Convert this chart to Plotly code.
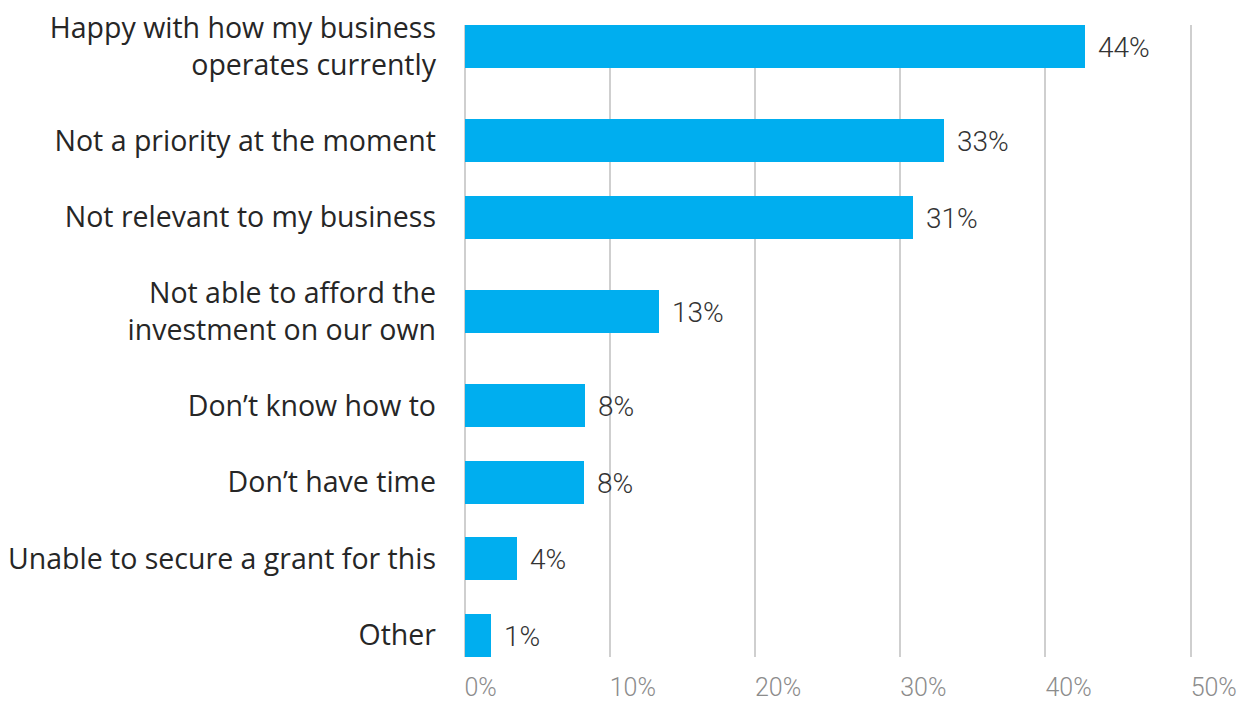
import plotly.graph_objects as go

# ---- data ----
categories = [
    "Happy with how my business<br>operates currently",
    "Not a priority at the moment",
    "Not relevant to my business",
    "Not able to afford the<br>investment on our own",
    "Don’t know how to",
    "Don’t have time",
    "Unable to secure a grant for this",
    "Other",
]
bar_values = [42.7, 33.0, 30.9, 13.4, 8.3, 8.2, 3.6, 1.8]
value_labels = ["44%", "33%", "31%", "13%", "8%", "8%", "4%", "1%"]
tick_values = [0, 10, 20, 30, 40, 50]
tick_labels = ["0%", "10%", "20%", "30%", "40%", "50%"]

# ---- layout helpers: row spacing grows with number of label lines ----
BASE_GAP = 76.6
EXTRA_PER_LINE = 17.5
BAR_H = 43
lines = [c.count("<br>") + 1 for c in categories]
positions = [0.0]
for i in range(1, len(categories)):
    gap = BASE_GAP + EXTRA_PER_LINE * ((lines[i - 1] - 1) + (lines[i] - 1))
    positions.append(positions[-1] + gap)

W, H = 1250, 704
plot_bottom = 657
span = positions[-1] + BAR_H
plot_top = plot_bottom - span
x_left_px, x0_px, x50_px = 462.5, 464, 1191
px_per_unit = (x50_px - x0_px) / 50
x_min = -(x0_px - x_left_px) / px_per_unit
x_max = 50.3
plot_right = x0_px + x_max * px_per_unit

BAR_COLOR = "#00AEEF"
GRID_COLOR = "#CFCFCF"

fig = go.Figure()
fig.add_trace(go.Bar(
    x=bar_values,
    y=positions,
    orientation="h",
    width=BAR_H,
    marker=dict(color=BAR_COLOR, line=dict(width=0)),
    hoverinfo="skip",
))

for v, p, t in zip(bar_values, positions, value_labels):
    fig.add_annotation(
        x=v, y=p, text=t, showarrow=False,
        xanchor="left", yanchor="middle", xshift=11, yshift=-1,
        font=dict(family="Roboto", size=28, color="#333333", weight=300),
    )

fig.update_layout(
    width=W, height=H,
    margin=dict(l=x_left_px, r=W - plot_right, t=plot_top, b=H - plot_bottom, pad=0),
    paper_bgcolor="white", plot_bgcolor="white",
    showlegend=False,
    bargap=0,
)
fig.update_xaxes(
    range=[x_min, x_max],
    tickvals=tick_values, ticktext=tick_labels,
    showgrid=True, gridcolor=GRID_COLOR, gridwidth=2,
    zeroline=False, showline=False, ticks="",
    ticklabelposition="outside right",
    ticklabelstandoff=13,
    tickfont=dict(family="Roboto", size=25, color="#8C8C8C", weight=300),
    automargin=False,
    fixedrange=True,
)
fig.update_yaxes(
    range=[positions[-1] + BAR_H / 2, positions[0] - BAR_H / 2],
    tickvals=positions, ticktext=categories,
    showgrid=False, zeroline=False, showline=False, ticks="",
    ticklabelstandoff=26,
    tickfont=dict(family="Open Sans", size=28.5, color="#262626"),
    automargin=False,
    fixedrange=True,
)

fig.write_html("out.html")
